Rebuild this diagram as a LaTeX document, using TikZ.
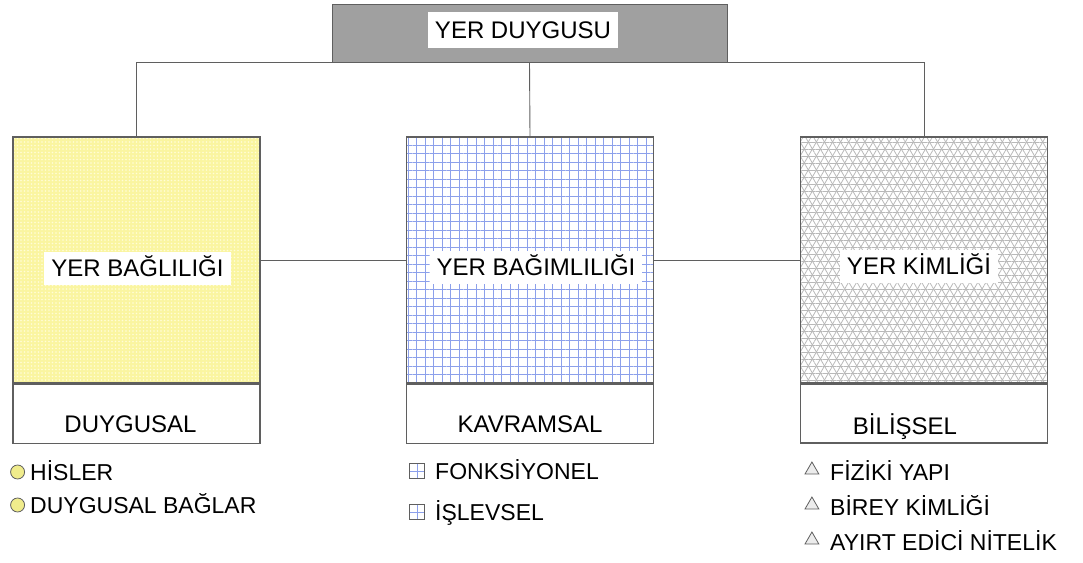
\documentclass[tikz,border=0pt]{standalone}
\usepackage{fontspec}
\setmainfont{Liberation Sans}
\usetikzlibrary{positioning,patterns.meta,shapes.geometric}

\definecolor{boxline}{RGB}{95,95,95}
\definecolor{topgray}{RGB}{160,160,160}
\definecolor{duyyellow}{RGB}{250,245,160}
\definecolor{duydot}{RGB}{255,253,215}
\definecolor{gridblue}{RGB}{140,160,235}
\definecolor{trigray}{RGB}{185,185,185}
\definecolor{markyellow}{RGB}{240,236,140}

\tikzset{
  link/.style={draw=boxline, line width=0.9pt},
  topbox/.style={draw=boxline, fill=topgray, line width=1pt, minimum width=395pt, minimum height=58pt},
  panel/.style={draw=boxline, line width=1.1pt, minimum width=247pt, minimum height=246pt, inner sep=0pt},
  sub/.style={draw=boxline, line width=1.1pt, minimum width=247pt, minimum height=59pt, inner sep=0pt},
  dotfill/.style={preaction={fill=duyyellow}, pattern={Dots[distance=3.5pt, radius=0.8pt]}, pattern color=duydot},
  gridfill/.style={pattern={Hatch[angle=0, distance=8.5pt, line width=1pt]}, pattern color=gridblue},
  trifill/.style={preaction={pattern={Lines[angle=60, distance=7pt, line width=0.8pt]}, pattern color=trigray},
                  preaction={pattern={Lines[angle=120, distance=7pt, line width=0.8pt]}, pattern color=trigray},
                  pattern={Lines[angle=0, distance=7pt, line width=0.8pt]}, pattern color=trigray},
  tag/.style={fill=white, inner xsep=7pt, inner ysep=8pt, text height=17pt, text depth=0pt},
  word/.style={inner sep=0pt, text height=17pt, text depth=0pt},
  item/.style={anchor=west, inner sep=0pt, text height=16pt, text depth=0pt, font=\fontsize{23}{27}\selectfont},
  dotmark/.style={circle, draw=boxline, fill=markyellow, line width=0.8pt, minimum size=14pt, inner sep=0pt},
  gridmark/.style={rectangle, draw=boxline, fill=white, line width=0.8pt, minimum size=15pt, inner sep=0pt,
    path picture={\draw[gridblue, line width=0.8pt] (path picture bounding box.north) -- (path picture bounding box.south)
      (path picture bounding box.west) -- (path picture bounding box.east);}},
  trimark/.style={regular polygon, regular polygon sides=3, draw=boxline, fill=gray!15, line width=0.8pt, minimum size=16pt, inner sep=0pt}
}

\begin{document}
\begin{tikzpicture}[x=1pt, y=-1pt, font=\fontsize{24}{28}\selectfont]
\useasboundingbox (0,0) rectangle (1083,562);
\node[topbox] (duygu) at (529.5,33) {};
\node[tag, inner ysep=9.5pt] (duygut) at (523,30) {YER DUYGUSU};
\node[panel, dotfill] (bag) at (136.5,260) {};
\node[panel, gridfill] (bagim) at (530,260) {};
\node[panel, trifill] (kim) at (924,260) {};
\node[sub, below=0pt of bag] (duy) {};
\node[sub, below=0pt of bagim] (kav) {};
\node[sub, below=0pt of kim] (bil) {};
\node[tag] (bagt) at ([xshift=1pt, yshift=-8pt]bag.center) {YER BAĞLILIĞI};
\node[tag] (bagimt) at ([xshift=6pt, yshift=-7pt]bagim.center) {YER BAĞIMLILIĞI};
\node[tag] (kimt) at ([xshift=-5pt, yshift=-6pt]kim.center) {YER KİMLİĞİ};
\node[word] (duyt) at ([xshift=-6pt, yshift=-10pt]duy.center) {DUYGUSAL};
\node[word] (kavt) at ([yshift=-10pt]kav.center) {KAVRAMSAL};
\node[word] (bilt) at ([xshift=-19pt, yshift=-13pt]bil.center) {BİLİŞSEL};
\draw[link] (bag.north) |- (duygu.south) -| (kim.north);
\draw[link] (duygu.south) -- (bagim.north);
\draw[link] (bag.east) -- (bagim.west);
\draw[link] (bagim.east) -- (kim.west);
\node[item] (his) at (30,472) {HİSLER};
\node[item] (bagl) at (30,505) {DUYGUSAL BAĞLAR};
\node[dotmark, left=5pt of his] (his_m) {};
\node[dotmark, left=5pt of bagl] (bagl_m) {};
\node[item] (fonk) at (435,471) {FONKSİYONEL};
\node[item] (isl) at (435,512) {İŞLEVSEL};
\node[gridmark, left=10pt of fonk] (fonk_m) {};
\node[gridmark, left=10pt of isl] (isl_m) {};
\node[item] (fiz) at (830,472) {FİZİKİ YAPI};
\node[item] (bir) at (830,507) {BİREY KİMLİĞİ};
\node[item] (ayi) at (830,542) {AYIRT EDİCİ NİTELİK};
\node[trimark, left=13pt of fiz, yshift=2pt] (fiz_m) {};
\node[trimark, left=13pt of bir, yshift=2pt] (bir_m) {};
\node[trimark, left=13pt of ayi, yshift=2pt] (ayi_m) {};
\end{tikzpicture}
\end{document}
